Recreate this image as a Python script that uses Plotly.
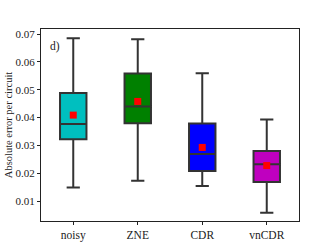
import plotly.graph_objects as go

categories = ["noisy", "ZNE", "CDR", "vnCDR"]
lower_whisker = [0.0149, 0.0173, 0.0155, 0.0059]
q1_vals = [0.0322, 0.0380, 0.0208, 0.0169]
median_vals = [0.0377, 0.0440, 0.0269, 0.0233]
q3_vals = [0.0488, 0.0558, 0.0379, 0.0280]
upper_whisker = [0.0685, 0.0681, 0.0559, 0.0393]
mean_vals = [0.0409, 0.0458, 0.0293, 0.0228]
fill_colors = ["#00BFBF", "#008000", "#0000FF", "#BF00BF"]
y_ticks = [0.01, 0.02, 0.03, 0.04, 0.05, 0.06, 0.07]

FONT = "Liberation Serif"

fig = go.Figure()
for i, c in enumerate(categories):
    fig.add_trace(go.Box(
        x=[c], q1=[q1_vals[i]], median=[median_vals[i]], q3=[q3_vals[i]],
        lowerfence=[lower_whisker[i]], upperfence=[upper_whisker[i]],
        fillcolor=fill_colors[i], line=dict(color="#333333", width=2),
        width=0.41, whiskerwidth=0.5, boxpoints=False, showlegend=False,
    ))

fig.add_trace(go.Scatter(
    x=categories, y=mean_vals, mode="markers",
    marker=dict(symbol="square", color="#FF0000", size=7, line=dict(width=0)),
    showlegend=False,
))

fig.add_annotation(text="d)", xref="paper", yref="paper", x=0.028, y=0.955,
                   xanchor="left", yanchor="top", showarrow=False,
                   font=dict(family=FONT, size=11.5, color="#222222"))

fig.update_layout(
    width=332, height=249,
    margin=dict(l=41, r=33, t=29, b=28, autoexpand=False),
    paper_bgcolor="white", plot_bgcolor="white",
    font=dict(family=FONT, size=11, color="#222222"),
)
fig.update_xaxes(
    type="category", categoryorder="array", categoryarray=categories,
    range=[-0.5, 3.5], showgrid=False, zeroline=False, automargin=False,
    showline=True, linecolor="#222222", linewidth=1, mirror=True,
    ticks="outside", ticklen=3, tickcolor="#222222",
    tickfont=dict(family=FONT, size=11.5),
)
fig.update_yaxes(
    range=[0.0029, 0.0718], tickvals=y_ticks,
    ticktext=[f"{v:.2f}" for v in y_ticks],
    showgrid=False, zeroline=False, automargin=False,
    showline=True, linecolor="#222222", linewidth=1, mirror=True,
    ticks="outside", ticklen=3, tickcolor="#222222",
    tickfont=dict(family=FONT, size=11),
    title=dict(text="Absolute error per circuit", font=dict(family=FONT, size=10.5), standoff=0),
)

fig.write_html("out.html", config={"displayModeBar": False},
               post_script="document.body.style.margin='0';")
